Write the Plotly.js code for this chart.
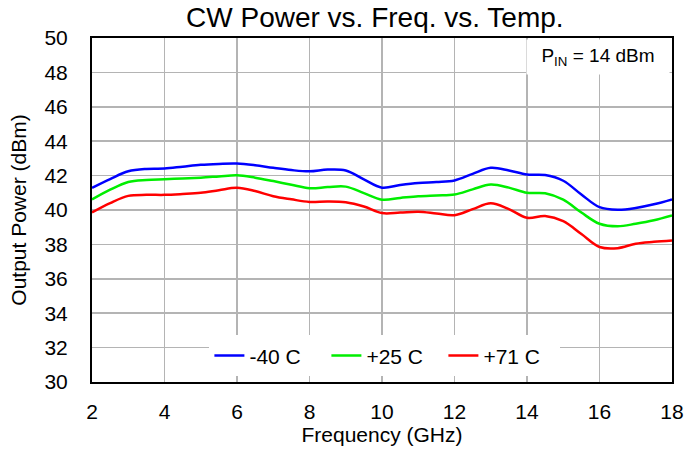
<!DOCTYPE html>
<html>
<head>
<meta charset="utf-8">
<script src="https://cdn.plot.ly/plotly-3.0.1.min.js"></script>
<style>html,body{margin:0;padding:0;background:#fff;}#chart{width:684px;height:452px;}</style>
</head>
<body>
<div id="chart"></div>
<script>
const freq = [2,2.5,3,3.5,4,4.5,5,5.5,6,6.5,7,7.5,8,8.5,9,9.5,10,10.5,11,11.5,12,12.5,13,13.5,14,14.5,15,15.5,16,16.5,17,17.5,18];
const pM40 = [41.29,41.8,42.25,42.39,42.41,42.52,42.63,42.68,42.70,42.6,42.45,42.32,42.25,42.35,42.3,41.78,41.3,41.45,41.57,41.63,41.72,42.1,42.45,42.3,42.06,42.03,41.7,40.9,40.17,40.02,40.12,40.33,40.62];
const pP25 = [40.61,41.18,41.63,41.75,41.79,41.83,41.88,41.95,42.02,41.88,41.68,41.47,41.27,41.33,41.36,40.98,40.6,40.7,40.8,40.85,40.9,41.2,41.48,41.3,41.0,40.97,40.6,39.85,39.2,39.05,39.2,39.4,39.68];
const pP71 = [39.86,40.4,40.82,40.88,40.88,40.93,41.0,41.15,41.29,41.1,40.8,40.62,40.47,40.5,40.45,40.2,39.82,39.85,39.9,39.8,39.7,40.05,40.39,40.05,39.55,39.65,39.35,38.6,37.85,37.78,38.04,38.15,38.23];
const seriesNames = ["-40 C","+25 C","+71 C"];
const seriesColors = ["#0000ff","#00ee00","#ff0000"];
const xTicks = [2,4,6,8,10,12,14,16,18];
const yTicks = [30,32,34,36,38,40,42,44,46,48,50];

const font = "Liberation Sans, Arial, sans-serif";
const ys = [pM40, pP25, pP71];
const traces = ys.map((y, i) => ({
  x: freq, y: y, type: "scatter", mode: "lines", name: seriesNames[i],
  line: {color: seriesColors[i], width: 2.5, shape: "spline", smoothing: 1}
}));

const layout = {
  width: 684, height: 452,
  margin: {l: 92, r: 12, t: 38, b: 70},
  paper_bgcolor: "#fff", plot_bgcolor: "#fff",
  font: {family: font, color: "#000"},
  title: {text: "CW Power vs. Freq. vs. Temp.", font: {size: 28, family: font, color: "#000"},
          x: 0.548, xanchor: "center", xref: "container", y: 0.962, yanchor: "middle"},
  xaxis: {
    range: [2, 18], tickvals: xTicks, ticktext: xTicks.map(String),
    showgrid: true, gridcolor: "#b4b4b4", gridwidth: 1.5,
    showline: true, linecolor: "#000", linewidth: 2, mirror: true,
    ticks: "", ticklabelstandoff: 10, zeroline: false,
    tickfont: {size: 21, family: font},
    title: {text: "Frequency (GHz)", font: {size: 21, family: font}, standoff: 2}
  },
  yaxis: {
    range: [30, 50], tickvals: yTicks, ticktext: yTicks.map(String),
    showgrid: true, gridcolor: "#b4b4b4", gridwidth: 1.5,
    showline: true, linecolor: "#000", linewidth: 2, mirror: true,
    ticks: "", ticklabelstandoff: 18, zeroline: false,
    tickfont: {size: 21, family: font},
    title: {text: "Output Power (dBm)", font: {size: 21, family: font}, standoff: 12}
  },
  showlegend: true,
  legend: {
    orientation: "h", x: 0.505, xanchor: "center", y: 0.076, yanchor: "middle",
    bgcolor: "#fff", borderwidth: 0, font: {size: 21, family: font},
    entrywidth: 72, entrywidthmode: "pixels", traceorder: "normal"
  },
  annotations: [{
    xref: "paper", yref: "paper", x: 0.997, y: 0.997, xanchor: "right", yanchor: "top",
    text: "P<sub>IN</sub> = 14 dBm", showarrow: false,
    font: {size: 19, family: font, color: "#000"},
    bgcolor: "#fff", width: 140, height: 32, align: "center"
  }]
};

Plotly.newPlot("chart", traces, layout, {displayModeBar: false, staticPlot: true});
</script>
</body>
</html>
